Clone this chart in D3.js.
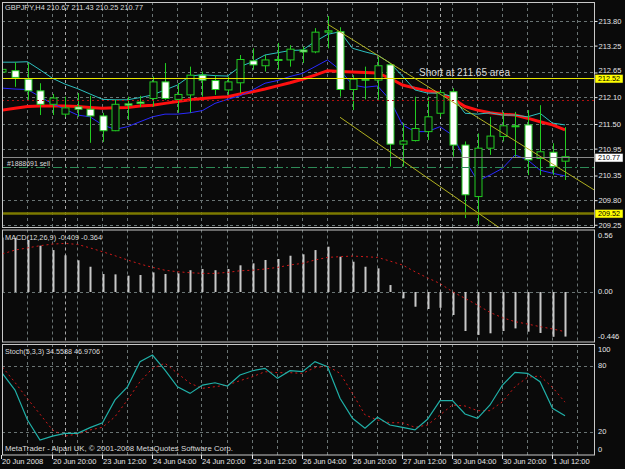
<!DOCTYPE html>
<html>
<head>
<meta charset="utf-8">
<script src="https://cdn.jsdelivr.net/npm/d3@7"></script>
<style>
  body { margin: 0; background: #000; }
  svg { display: block; }
  text { font-family: "Liberation Sans", Arial, sans-serif; }
</style>
</head>
<body>
<div id="chart"></div>
<script>
// Bars are H4, index -1 .. 44 (bar -1 is cut by the left edge)
const bars = d3.range(-1, 45);

const opens  = [212.66,212.69,212.50,212.24,211.94,211.72,211.88,211.83,211.68,211.35,211.95,211.99,212.07,212.44,212.05,212.15,212.59,212.47,212.26,212.42,212.91,212.80,212.94,212.93,213.15,213.11,213.55,213.56,212.27,212.50,212.48,212.82,211.05,211.13,211.33,211.74,212.22,211.03,209.88,210.96,211.22,211.46,211.48,210.73,210.87,210.67];
const highs  = [212.80,212.88,212.86,212.41,212.17,212.11,212.19,212.13,211.75,212.04,212.11,212.13,212.56,212.86,212.41,212.78,212.67,212.59,212.56,213.04,213.19,213.04,213.31,213.26,213.23,213.64,213.91,213.66,212.59,212.78,213.00,212.86,211.52,212.11,212.11,212.26,212.30,211.11,211.29,211.66,211.77,211.77,211.81,211.92,211.07,211.43];
const lows   = [212.59,212.33,212.04,211.70,211.70,211.66,211.66,211.08,211.10,211.34,211.59,211.88,211.89,212.04,211.75,211.75,212.11,212.15,212.15,212.19,212.71,212.67,212.71,212.78,212.86,213.08,213.19,212.11,211.81,212.05,212.04,210.55,210.55,211.11,211.14,211.66,210.77,209.40,209.25,210.81,211.11,210.77,210.36,210.36,210.36,210.25];
const closes = [212.72,212.54,212.24,211.94,212.08,211.86,211.83,211.68,211.35,211.94,211.92,211.96,212.44,212.07,212.16,212.59,212.48,212.27,212.44,212.94,212.82,212.93,212.92,213.17,213.11,213.55,213.58,212.27,212.50,212.49,212.80,211.05,211.12,211.40,211.66,212.20,211.03,209.92,210.96,211.23,211.46,211.45,210.70,210.88,210.55,210.77];

// moving averages on the price chart
const maFast = [212.88,212.88,212.89,212.71,212.52,212.39,212.29,212.17,212.05,212.04,212.04,212.09,212.15,212.26,212.37,212.57,212.60,212.58,212.57,212.78,212.89,213.04,213.09,213.14,213.15,213.34,213.50,213.56,213.19,213.11,213.04,212.86,212.57,212.26,212.19,212.19,212.11,211.74,211.72,211.75,211.70,211.70,211.66,211.74,211.52,211.48];
const maBlue = [212.30,212.28,212.27,212.11,211.95,211.83,211.70,211.66,211.48,211.38,211.44,211.55,211.66,211.72,211.72,211.75,211.80,211.96,212.05,212.13,212.26,212.41,212.47,212.56,212.63,212.78,212.93,212.71,212.37,212.32,212.35,212.04,211.48,211.33,211.33,211.44,211.25,210.70,210.23,210.36,210.51,210.81,210.70,210.47,210.40,210.34];
const maRed  = [211.81,211.85,211.89,211.90,211.90,211.90,211.89,211.87,211.85,211.86,211.87,211.90,211.92,211.96,212.00,212.04,212.07,212.09,212.11,212.17,212.22,212.28,212.35,212.42,212.50,212.59,212.69,212.67,212.66,212.65,212.64,212.52,212.37,212.30,212.24,212.19,212.07,211.89,211.81,211.75,211.72,211.70,211.63,211.55,211.48,211.37];

// MACD(12,26,9)
const macdHist   = [0.50,0.495,0.477,0.425,0.385,0.337,0.291,0.232,0.165,0.162,0.150,0.156,0.180,0.165,0.171,0.200,0.211,0.200,0.211,0.245,0.263,0.294,0.303,0.333,0.346,0.385,0.416,0.324,0.278,0.232,0.217,0.064,-0.058,-0.135,-0.156,-0.145,-0.211,-0.358,-0.394,-0.379,-0.358,-0.334,-0.364,-0.376,-0.411,-0.409];
const macdSignal = [0.350,0.385,0.405,0.425,0.440,0.446,0.437,0.405,0.370,0.333,0.294,0.257,0.226,0.200,0.186,0.177,0.171,0.171,0.180,0.195,0.200,0.211,0.226,0.248,0.263,0.294,0.318,0.324,0.330,0.324,0.318,0.284,0.248,0.186,0.130,0.078,0.003,-0.058,-0.120,-0.187,-0.236,-0.272,-0.294,-0.318,-0.339,-0.364];

// Stochastic(5,3,3)
const stochMain   = [73,58,30.7,12.4,16,18.5,18.5,23.7,28.2,49,61,84,90,76.3,61,55,62.6,64.7,61.7,71.8,75.7,77.9,68.7,75.7,74.8,84,79.4,50.5,32.2,23.1,33.1,26.1,24,21.6,31.3,48.3,48.3,36.2,32.2,44.4,62.6,74.2,73.3,65.7,41.4,34.56];
const stochSignal = [79,65,50,36,21.6,16,17.9,21.6,24,33.7,49,65.7,77.9,82.5,73.3,64.2,59.6,61.1,62.6,66.6,70.2,74.8,73.9,73.9,73.3,78.5,80,73.3,55,35.3,30.7,28.2,28.2,24,26.1,35.3,44.4,43.5,39.2,39.2,47.4,61.1,69.7,70.9,60.5,46.97];

// axes
const mainTicks  = [213.80, 213.25, 212.65, 212.10, 211.50, 210.95, 210.35, 209.80, 209.25];
const macdTicks  = [0.56, 0.00, -0.446];
const macdTickText = ["0.56", "0.00", "-0.446"];
const stochTicks = [100, 80, 20, 0];
const stochLevels = [80, 20];
const xLabelBars = [-1, 3, 7, 11, 15, 19, 23, 27, 31, 35, 39, 43];
const xLabels = ["20 Jun 2008", "20 Jun 20:00", "23 Jun 12:00", "24 Jun 04:00", "24 Jun 20:00", "25 Jun 12:00",
                 "26 Jun 04:00", "26 Jun 20:00", "27 Jun 12:00", "30 Jun 04:00", "30 Jun 20:00", "1 Jul 12:00"];
const separatorBars = [4, 34];   // week starts

// chart objects
const shortLevel = 212.52;
const targetLevel = 209.52;
const stopLevel = 212.03;
const orderLevel = 210.53;
const bidPrice = 210.77;
const channelUpper = [[25.0, 213.73], [46.32, 210.03]];
const channelLower = [[26.0, 211.65], [41.0, 208.75]];
const tagPrices = [212.52, 209.52, 210.77];

const W = 625, H = 469;
const left = 2, right = 594;

const svg = d3.select("#chart").append("svg")
    .attr("width", W)
    .attr("height", H);

svg.append("rect").attr("width", W).attr("height", H).attr("fill", "#0a0a0a");

// Scales
const x = d3.scaleLinear().domain([0, 44]).range([15, 565]);
const yMain = d3.scaleLinear().domain([212.52, 209.52]).range([78.3, 212.7]);
const yMacd = d3.scaleLinear().domain([0.56, -0.446]).range([231, 340.6]);
const yStoch = d3.scaleLinear().domain([100, 0]).range([344.1, 453.6]);

const panels = {
    main: {top: 2, bottom: 227.5},
    macd: {top: 229.5, bottom: 342},
    stoch: {top: 344, bottom: 455}
};

const gridColor = "#6a7474";
const defs = svg.append("defs");
const layers = {};
Object.entries(panels).forEach(([name, p]) => {
    defs.append("clipPath").attr("id", "clip-" + name)
        .append("rect")
        .attr("x", left + 1).attr("y", p.top)
        .attr("width", right - left - 1).attr("height", p.bottom - p.top);
    layers[name] = svg.append("g").attr("clip-path", `url(#clip-${name})`);

    // vertical grid, every second bar
    layers[name].selectAll("line.vgrid")
        .data(d3.range(1, 46, 2))
        .enter().append("line")
        .attr("x1", d => Math.round(x(d)) - 0.5)
        .attr("x2", d => Math.round(x(d)) - 0.5)
        .attr("y1", p.top).attr("y2", p.bottom)
        .attr("stroke", gridColor)
        .attr("stroke-dasharray", "3,3");

    // period separators
    layers[name].selectAll("line.sep")
        .data(separatorBars)
        .enter().append("line")
        .attr("x1", d => Math.round(x(d)) + 0.5)
        .attr("x2", d => Math.round(x(d)) + 0.5)
        .attr("y1", p.top).attr("y2", p.bottom)
        .attr("stroke", "#a8a8a8")
        .attr("stroke-dasharray", "3,3");
});

function hLines(layer, values, scale, color, dash, width) {
    layer.selectAll(null)
        .data(values)
        .enter().append("line")
        .attr("x1", left).attr("x2", right)
        .attr("y1", d => Math.round(scale(d)) + 0.5)
        .attr("y2", d => Math.round(scale(d)) + 0.5)
        .attr("stroke", color)
        .attr("stroke-width", width || 1)
        .attr("stroke-dasharray", dash);
}

// ---------- main price panel ----------
const main = layers.main;
hLines(main, mainTicks, yMain, gridColor, "3,3");

const mainLine = arr => d3.line()
    .x((d, i) => x(bars[i]))
    .y(d => yMain(d))(arr);

main.append("path").attr("d", mainLine(maRed))
    .attr("fill", "none").attr("stroke", "#ff1010").attr("stroke-width", 3);
main.append("path").attr("d", mainLine(maBlue))
    .attr("fill", "none").attr("stroke", "#2a2aff").attr("stroke-width", 1);
main.append("path").attr("d", mainLine(maFast))
    .attr("fill", "none").attr("stroke", "#2ec0c0").attr("stroke-width", 1);

// candles
const candles = main.append("g").selectAll("g")
    .data(bars)
    .enter().append("g");

candles.append("line")
    .attr("x1", d => Math.round(x(d)) + 0.5)
    .attr("x2", d => Math.round(x(d)) + 0.5)
    .attr("y1", (d, i) => yMain(highs[i]))
    .attr("y2", (d, i) => yMain(lows[i]))
    .attr("stroke", "#22cc22");

candles.append("rect")
    .attr("x", d => Math.round(x(d)) - 3)
    .attr("width", 7)
    .attr("y", (d, i) => Math.min(yMain(opens[i]), yMain(closes[i])))
    .attr("height", (d, i) => Math.max(1, Math.abs(yMain(opens[i]) - yMain(closes[i]))))
    .attr("fill", (d, i) => closes[i] < opens[i] ? "#ffffff" : "#0a0a0a")
    .attr("stroke", "#22cc22")
    .attr("stroke-width", 1);

// objects
hLines(main, [stopLevel], yMain, "#b01010", "2,3");
hLines(main, [orderLevel], yMain, "#2e8b57", "9,3,2,3");
hLines(main, [bidPrice], yMain, "#8a8a8a");
hLines(main, [shortLevel], yMain, "#e8e800");
hLines(main, [targetLevel], yMain, "#7c7a00", null, 2.5);

[channelUpper, channelLower].forEach(seg => {
    main.append("line")
        .attr("x1", x(seg[0][0])).attr("y1", yMain(seg[0][1]))
        .attr("x2", x(seg[1][0])).attr("y2", yMain(seg[1][1]))
        .attr("stroke", "#b0b020")
        .attr("stroke-width", 1);
});

// ---------- MACD panel ----------
const macd = layers.macd;
hLines(macd, [0], yMacd, gridColor, "3,3");

macd.selectAll("rect.hist")
    .data(bars)
    .enter().append("rect")
    .attr("x", d => Math.round(x(d)) - 0.5)
    .attr("width", 2)
    .attr("y", (d, i) => Math.min(yMacd(0), yMacd(macdHist[i])))
    .attr("height", (d, i) => Math.abs(yMacd(macdHist[i]) - yMacd(0)))
    .attr("fill", "#c8c8c8");

macd.append("path")
    .attr("d", d3.line().x((d, i) => x(bars[i])).y(d => yMacd(d))(macdSignal))
    .attr("fill", "none")
    .attr("stroke", "#d01818")
    .attr("stroke-width", 1)
    .attr("stroke-dasharray", "2,3");

// ---------- Stochastic panel ----------
const stoch = layers.stoch;
hLines(stoch, stochLevels, yStoch, gridColor, "3,3");

stoch.append("path")
    .attr("d", d3.line().x((d, i) => x(bars[i])).y(d => yStoch(d))(stochSignal))
    .attr("fill", "none")
    .attr("stroke", "#d01818")
    .attr("stroke-width", 1)
    .attr("stroke-dasharray", "2,3");

stoch.append("path")
    .attr("d", d3.line().x((d, i) => x(bars[i])).y(d => yStoch(d))(stochMain))
    .attr("fill", "none")
    .attr("stroke", "#20b0a8")
    .attr("stroke-width", 1.2);

// ---------- frames ----------
Object.values(panels).forEach(p => {
    svg.append("rect")
        .attr("x", left + 0.5).attr("y", p.top + 0.5)
        .attr("width", right - left).attr("height", p.bottom - p.top - 0.5)
        .attr("fill", "none")
        .attr("stroke", "#c8c8c8");
});

// ---------- right axes ----------
const labelColor = "#e6e6e6";
const axisMain = svg.append("g")
    .attr("transform", `translate(${right + 0.5},0)`)
    .call(d3.axisRight(yMain).tickValues(mainTicks)
        .tickFormat(d3.format(".2f")).tickSize(3).tickPadding(1));
axisMain.select(".domain").remove();
axisMain.selectAll("line").attr("stroke", labelColor);
axisMain.selectAll("text")
    .attr("fill", labelColor)
    .attr("dy", d => d === 212.65 ? "0.05em" : "0.32em")
    .style("font-size", "7.5px")
    .style("font-family", "Liberation Sans, Arial, sans-serif");

function sideLabels(values, texts, scale, p) {
    svg.selectAll(null)
        .data(values)
        .enter().append("text")
        .attr("x", right + 4)
        .attr("y", d => Math.max(p.top + 6, Math.min(p.bottom - 5, scale(d))))
        .attr("dy", "0.32em")
        .attr("fill", labelColor)
        .style("font-size", "7.5px")
        .text((d, i) => texts[i]);
}
sideLabels(macdTicks, macdTickText, yMacd, panels.macd);
sideLabels(stochTicks, stochTicks.map(String), yStoch, panels.stoch);

// price tags
const tagFill = ["#ffff00", "#ffff00", "#ffffff"];
const tags = svg.selectAll("g.tag")
    .data(tagPrices)
    .enter().append("g");
tags.append("rect")
    .attr("x", right + 1)
    .attr("y", d => Math.round(yMain(d)) - 3.5)
    .attr("width", 28)
    .attr("height", 8.5)
    .attr("fill", (d, i) => tagFill[i])
    .attr("stroke", "#202020")
    .attr("stroke-width", 0.5);
tags.append("text")
    .attr("x", right + 4)
    .attr("y", d => Math.round(yMain(d)) + 0.8)
    .attr("dy", "0.32em")
    .attr("fill", "#000")
    .style("font-size", "7.2px")
    .text(d => d3.format(".2f")(d));

// ---------- time axis ----------
svg.selectAll("line.xtick")
    .data(xLabelBars)
    .enter().append("line")
    .attr("x1", d => Math.round(x(d)) - 0.5)
    .attr("x2", d => Math.round(x(d)) - 0.5)
    .attr("y1", panels.stoch.bottom)
    .attr("y2", panels.stoch.bottom + 4)
    .attr("stroke", labelColor);

svg.selectAll("text.xlab")
    .data(xLabelBars)
    .enter().append("text")
    .attr("x", d => Math.round(x(d)))
    .attr("y", 464)
    .attr("fill", labelColor)
    .style("font-size", "7.5px")
    .text((d, i) => xLabels[i]);

// ---------- texts ----------
function label(str, px, py, size, width, color) {
    svg.append("text")
        .attr("x", px).attr("y", py)
        .attr("fill", color || "#dcdcdc")
        .attr("textLength", width)
        .attr("lengthAdjust", "spacingAndGlyphs")
        .style("font-size", size + "px")
        .text(str);
}
label("GBPJPY,H4  210.67 211.43 210.25 210.77", 5, 10, 8, 138);
label("Short at 211.65 area", 419, 76, 10.5, 91, "#d8d8d8");
label("#1888691 sell", 7, 166, 8, 43);
label("MACD(12,26,9) -0.409 -0.364", 5, 240, 8, 97);
label("Stoch(5,3,3) 34.5588 46.9706", 5, 354, 8, 95);
label("MetaTrader - Alpari UK, \u00a9 2001-2008 MetaQuotes Software Corp.", 5, 451, 8, 228);
</script>
</body>
</html>
